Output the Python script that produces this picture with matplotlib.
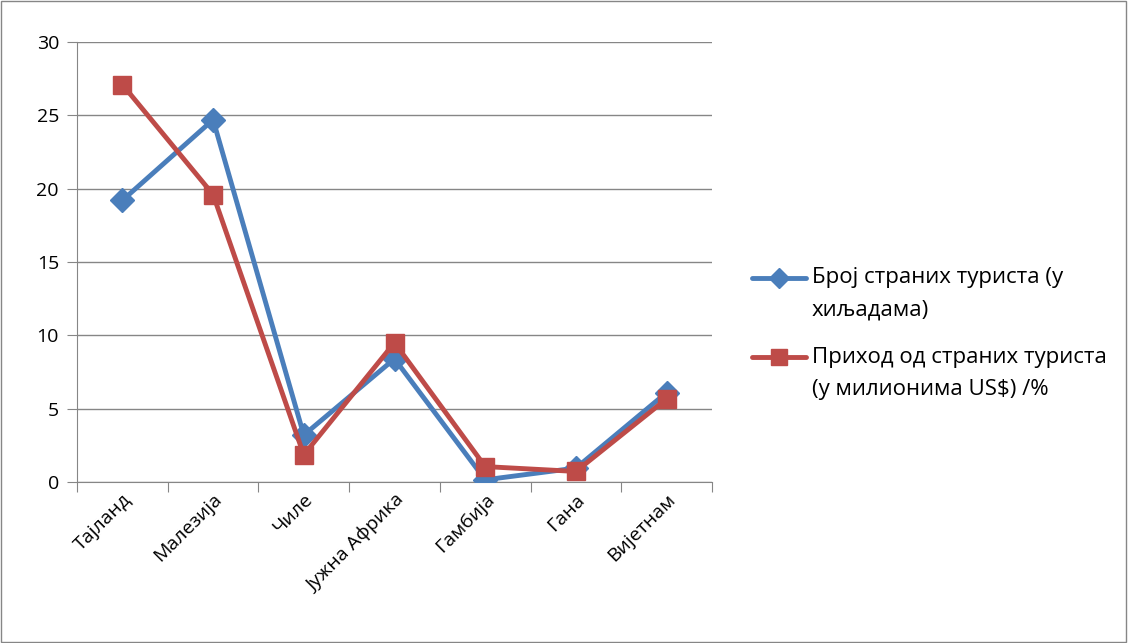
import matplotlib
matplotlib.use("Agg")
import matplotlib.pyplot as plt
from matplotlib.lines import Line2D
from matplotlib.patches import Rectangle

plt.rcParams['font.family'] = ['Open Sans', 'DejaVu Sans']

# data
countries = ['Тајланд', 'Малезија', 'Чиле', 'Јужна Африка', 'Гамбија', 'Гана', 'Вијетнам']
tourists = [19.2, 24.7, 3.2, 8.4, 0.15, 0.95, 6.1]
income = [27.1, 19.6, 1.85, 9.5, 1.05, 0.72, 5.67]

label_tourists = 'Број страних туриста (у\nхиљадама)'
label_income = 'Приход од страних туриста\n(у милионима US$) /%'

blue = '#4A7EBB'
red = '#BE4B48'
grid_col = '#868686'

W, H = 1128, 643
fig = plt.figure(figsize=(W / 100, H / 100), dpi=100)
ax = fig.add_axes([77 / W, 161 / H, 635 / W, 440 / H])

x = list(range(len(countries)))
ax.plot(x, tourists, color=blue, lw=3.5, marker='D', ms=12, zorder=3)
ax.plot(x, income, color=red, lw=3.5, marker='s', ms=13, zorder=4)

ax.set_xlim(-0.5, len(countries) - 0.5)
ax.set_ylim(0, 30)
ax.set_yticks(range(0, 31, 5))
ax.yaxis.grid(True, color=grid_col, lw=1)
ax.set_axisbelow(True)

# category ticks between groups, labels at centres
ax.set_xticks([i - 0.5 for i in range(len(countries) + 1)])
ax.set_xticklabels([])
ax.set_xticks(x, minor=True)
ax.set_xticklabels(countries, minor=True, rotation=45, ha='right', rotation_mode='anchor', fontsize=14)
ax.tick_params(axis='x', which='minor', length=0, pad=6)
ax.tick_params(axis='x', which='major', length=7, color=grid_col)
ax.tick_params(axis='y', length=7, color=grid_col, labelsize=14, pad=6)

for side in ['top', 'right']:
    ax.spines[side].set_visible(False)
for side in ['left', 'bottom']:
    ax.spines[side].set_color(grid_col)

# legend drawn by hand so the handle sits on the first text line
entries = [(label_tourists, blue, 'D', 10, 278), (label_income, red, 's', 12, 357)]
for label, col, mk, size, ypx in entries:
    yf = 1 - ypx / H
    fig.add_artist(Line2D([752 / W, 806 / W], [yf, yf], transform=fig.transFigure,
                          color=col, lw=3.5, solid_capstyle='round'))
    fig.add_artist(Line2D([779 / W], [yf], transform=fig.transFigure, color=col,
                          marker=mk, ms=size, lw=0))
    for k, line in enumerate(label.split('\n')):
        fig.text(812 / W, 1 - (ypx + 32 * k) / H, line, fontsize=16, va='center',
                 transform=fig.transFigure)

# outer chart border
fig.patches.append(Rectangle((0.001, 0.002), 0.997, 0.996, transform=fig.transFigure,
                             fill=False, edgecolor='#868686', lw=1))

fig.savefig('out.png', dpi=100)
